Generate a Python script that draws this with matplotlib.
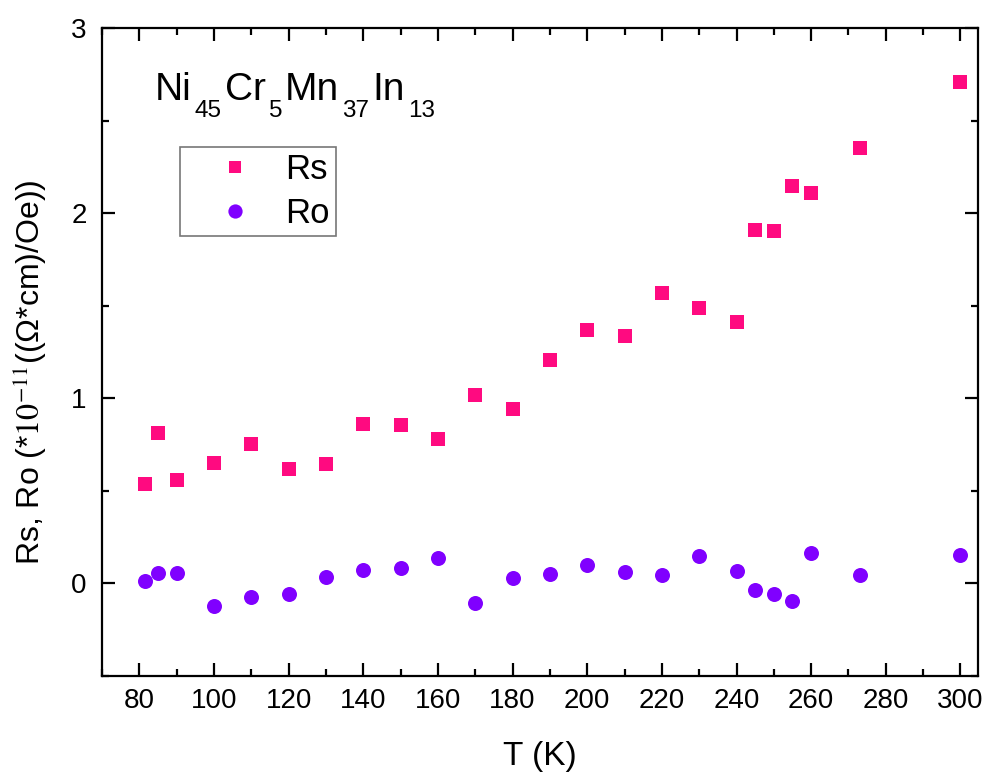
import matplotlib
matplotlib.use("Agg")
import matplotlib.pyplot as plt
from matplotlib.ticker import MultipleLocator

plt.rcParams['font.family'] = ['Liberation Sans', 'DejaVu Sans']
plt.rcParams['mathtext.fontset'] = 'stix'

T = [81.5, 85, 90, 100, 110, 120, 130, 140, 150, 160, 170, 180, 190, 200,
     210, 220, 230, 240, 245, 250, 255, 260, 273, 300]
Rs = [0.535, 0.814, 0.56, 0.649, 0.753, 0.62, 0.645, 0.863, 0.857, 0.78,
      1.02, 0.942, 1.209, 1.368, 1.337, 1.571, 1.486, 1.412, 1.911, 1.903,
      2.148, 2.108, 2.351, 2.711]
Ro = [0.012, 0.057, 0.059, -0.121, -0.076, -0.056, 0.036, 0.074, 0.084,
      0.137, -0.106, 0.029, 0.049, 0.099, 0.063, 0.045, 0.148, 0.066,
      -0.036, -0.056, -0.096, 0.162, 0.047, 0.151]
formula = [("Ni", "45"), ("Cr", "5"), ("Mn", "37"), ("In", "13")]

W, H = 986, 773
fig = plt.figure(figsize=(W/100, H/100), dpi=100)
ax = fig.add_axes([102/W, 1-676/H, 876/W, 648/H])

ax.plot(T, Rs, linestyle='none', marker='s', markersize=9.6,
        color='#FF0A80', markeredgewidth=0, label='Rs')
ax.plot(T, Ro, linestyle='none', marker='o', markersize=10.8,
        color='#8000FF', markeredgewidth=0, label='Ro')

ax.set_xlim(70, 304.7)
ax.set_ylim(-0.5, 3)
ax.xaxis.set_major_locator(MultipleLocator(20))
ax.xaxis.set_minor_locator(MultipleLocator(10))
ax.yaxis.set_major_locator(MultipleLocator(1))
ax.yaxis.set_minor_locator(MultipleLocator(0.5))
ax.set_xticks(range(80, 301, 20))

for s in ax.spines.values():
    s.set_linewidth(1.6)
ax.tick_params(which='both', direction='in', top=True, right=True,
               width=1.6, labelsize=20)
ax.tick_params(which='major', length=9.5)
ax.tick_params(which='minor', length=5.2)
ax.tick_params(axis='x', which='major', pad=9)
ax.tick_params(axis='y', which='major', pad=11)

ax.set_xlabel('T (K)', fontsize=24, labelpad=19)
ax.set_ylabel(r'Rs, Ro (*$10^{-11}$((Ω*cm)/Oe))', fontsize=23)
ax.yaxis.set_label_coords(-0.06, 0.468)

renderer = fig.canvas.get_renderer()
x = 155.0
gap = 3.0
for main, sub in formula:
    t = fig.text(x/W, 1-100/H, main, fontsize=28, va='baseline', ha='left')
    x += t.get_window_extent(renderer).width + gap
    t2 = fig.text(x/W, 1-117/H, sub, fontsize=17.5, va='baseline', ha='left')
    x += t2.get_window_extent(renderer).width + gap

leg = ax.legend(loc='upper left', bbox_to_anchor=((180-102)/876, (676-147)/648),
                borderaxespad=0, fontsize=25, frameon=True, fancybox=False,
                edgecolor='#555555', handlelength=2.8, handletextpad=0.05,
                borderpad=0.18, labelspacing=0.3, markerscale=0.95)
leg.get_frame().set_linewidth(1.2)

fig.savefig('out.png', dpi=100)
